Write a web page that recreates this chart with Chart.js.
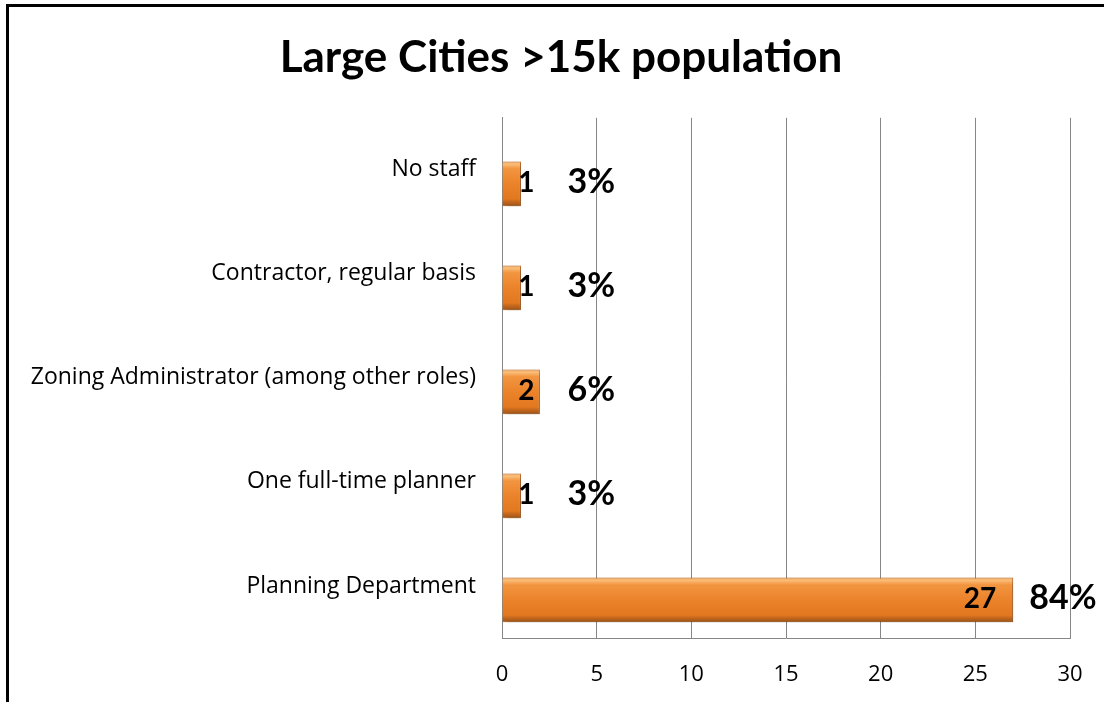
<!DOCTYPE html>
<html>
<head>
<meta charset="utf-8">
<title>Large Cities >15k population</title>
<script src="https://cdn.jsdelivr.net/npm/chart.js@4.4.1/dist/chart.umd.min.js"></script>
<style>
    html, body { margin: 0; padding: 0; background: #fff; }
    #frame { position: absolute; left: 6px; top: 4px; width: 1200px; height: 800px;
             border-top: 3px solid #000; border-left: 3px solid #000; }
    #wrap { position: absolute; left: 0; top: 0; width: 1104px; height: 702px; }
</style>
</head>
<body>
<div id="frame"></div>
<div id="wrap"><canvas id="chart1"></canvas></div>
<script>
var categories = ['No staff', 'Contractor, regular basis', 'Zoning Administrator (among other roles)', 'One full-time planner', 'Planning Department'];
var counts = [1, 1, 2, 1, 27];
var xTicks = [0, 5, 10, 15, 20, 25, 30];

var total = counts.reduce(function (a, b) { return a + b; }, 0);
var percents = counts.map(function (v) { return Math.round(v / total * 100) + '%'; });

var BOLD_FONT = 'Lato, "Open Sans", sans-serif';
var TEXT_FONT = '"Open Sans", Lato, sans-serif';
var BAR_DROP = 14;     // bars sit a little below their category label
var TITLE_SHIFT = 42;  // title is centred a bit right of the canvas middle

// orange bevelled bar fill
function barFill(c) {
    var chart = c.chart;
    var y = chart.scales.y;
    if (c.type !== 'data' || !y) return '#E98129';
    var mid = y.getPixelForValue(c.dataIndex);
    var half = y.height / categories.length * 0.43 / 2;
    if (!isFinite(mid) || !isFinite(half) || half <= 0) return '#E98129';
    var g = chart.ctx.createLinearGradient(0, mid - half, 0, mid + half);
    g.addColorStop(0, '#F2A55C');
    g.addColorStop(0.06, '#FBBE78');
    g.addColorStop(0.16, '#F29540');
    g.addColorStop(0.5, '#EB832A');
    g.addColorStop(0.84, '#E27820');
    g.addColorStop(0.9, '#C4671C');
    g.addColorStop(1, '#9C5216');
    return g;
}

var barLabels = {
    id: 'barLabels',
    afterLayout: function (chart) {
        if (chart.titleBlock) chart.titleBlock.left += TITLE_SHIFT;
    },
    beforeDatasetsDraw: function (chart) {
        var ctx = chart.ctx;
        ctx.save();
        ctx.translate(0, BAR_DROP);
        ctx.shadowColor = 'rgba(0,0,0,0.3)';
        ctx.shadowBlur = 5;
        ctx.shadowOffsetX = 2;
        ctx.shadowOffsetY = 3;
    },
    afterDatasetsDraw: function (chart) {
        var ctx = chart.ctx;
        ctx.restore();
        ctx.save();
        ctx.fillStyle = '#000';
        ctx.textBaseline = 'middle';
        chart.getDatasetMeta(0).data.forEach(function (bar, i) {
            var yMid = bar.y + BAR_DROP - 1;
            var numRight = Math.max(bar.x - 17, bar.base + 32);
            ctx.font = 'bold 28px ' + BOLD_FONT;
            ctx.textAlign = 'right';
            ctx.fillText(String(counts[i]), numRight, yMid);
            ctx.font = 'bold 34px ' + BOLD_FONT;
            ctx.textAlign = 'left';
            ctx.fillText(percents[i], numRight + 33, yMid - 1);
        });
        ctx.restore();
    }
};

var chart = new Chart(document.getElementById('chart1'), {
    type: 'bar',
    data: {
        labels: categories,
        datasets: [{
            data: counts,
            backgroundColor: barFill,
            borderColor: '#B45D18',
            borderWidth: 1,
            categoryPercentage: 1,
            barPercentage: 0.43
        }]
    },
    options: {
        indexAxis: 'y',
        responsive: true,
        maintainAspectRatio: false,
        animation: false,
        layout: { padding: { left: 10, right: 34, top: 0, bottom: 0 } },
        plugins: {
            legend: { display: false },
            tooltip: { enabled: false },
            title: {
                display: true,
                text: 'Large Cities >15k population',
                color: '#000',
                font: { family: BOLD_FONT, size: 44, weight: 'bold' },
                padding: { top: 31, bottom: 34 }
            }
        },
        scales: {
            x: {
                min: 0,
                max: 30,
                afterBuildTicks: function (axis) {
                    axis.ticks = xTicks.map(function (v) { return { value: v }; });
                },
                afterFit: function (axis) {
                    axis.height = 64;
                    axis.paddingLeft = 0;
                    axis.paddingRight = 0;
                },
                grid: { color: '#868686', drawTicks: false },
                border: { color: '#868686' },
                ticks: { color: '#000', padding: 24, font: { family: TEXT_FONT, size: 22 } }
            },
            y: {
                afterFit: function (axis) { axis.width = 492; },
                grid: { display: false, drawTicks: false },
                border: { display: true, color: '#868686' },
                ticks: { color: '#000', padding: 26, font: { family: TEXT_FONT, size: 23 } }
            }
        }
    },
    plugins: [barLabels]
});
</script>
</body>
</html>
